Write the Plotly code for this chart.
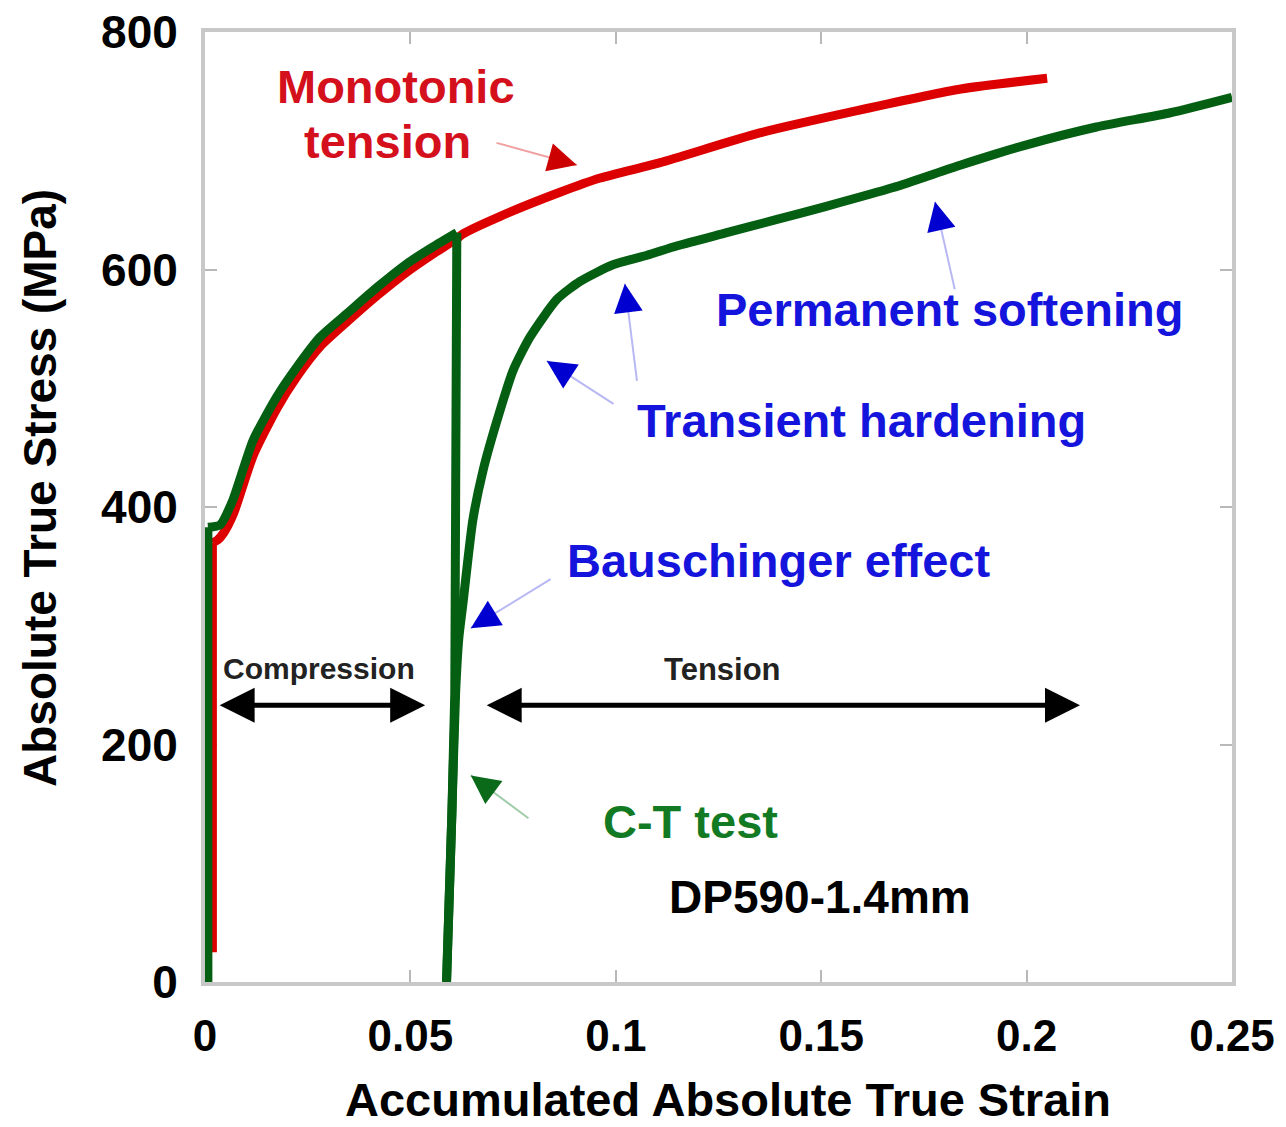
import math
import plotly.graph_objects as go

# ---- data ----
mono_elastic_strain = [0.0018, 0.0018]
mono_elastic_stress = [25, 370]
mono_strain = [0.0018, 0.003, 0.0045, 0.007, 0.0117, 0.0175, 0.0224, 0.028, 0.0346,
               0.0419, 0.0492, 0.0555, 0.0613, 0.0628, 0.072, 0.0864, 0.0962, 0.1108, 0.135,
               0.159, 0.184, 0.205]
mono_stress = [370, 372, 378, 395, 443, 483, 510, 535, 556,
               578, 598, 613, 626, 630, 645, 665, 677, 690, 715,
               734, 752, 761]

# C-T test: elastic compression, compression loading, elastic unloading, tension reloading
ct_elastic_strain = [0.0007, 0.0007]
ct_elastic_stress = [0, 383]
ct_comp_strain = [0.0007, 0.0037, 0.0068, 0.0117, 0.0175, 0.0224, 0.028, 0.0346, 0.0419,
                  0.0492, 0.0555, 0.0613]
ct_comp_stress = [383, 385, 406, 456, 493, 518, 543, 563, 585,
                  605, 619, 631]
ct_unload_strain = [0.0613, 0.0613, 0.0608, 0.0601, 0.0588]
ct_unload_stress = [631, 290, 243, 142, 0]
ct_reload_strain = [0.0588, 0.0601, 0.0610, 0.0618, 0.0628, 0.0652, 0.0677, 0.0711, 0.075,
                    0.0791, 0.0857, 0.0913, 0.0993, 0.1076, 0.115, 0.127, 0.139, 0.151, 0.1675,
                    0.184, 0.2, 0.217, 0.235, 0.25]
ct_reload_stress = [0, 142, 243, 290, 319, 389, 431, 473, 515,
                    543, 575, 590, 604, 612, 620, 631, 642, 653, 669,
                    688, 705, 720, 732, 745]

x_ticks = [0, 0.05, 0.1, 0.15, 0.2, 0.25]
x_tick_labels = ["0", "0.05", "0.1", "0.15", "0.2", "0.25"]
y_ticks = [0, 200, 400, 600, 800]
y_tick_labels = ["0", "200", "400", "600", "800"]

RED = "#dd0000"
GREEN = "#055f12"
BLUE = "#1414dc"
FONT = "Liberation Sans, Arial, sans-serif"

fig = go.Figure()

def curve(xs, ys, color, name, smooth):
    line = dict(color=color, width=9)
    if smooth:
        line.update(shape="spline", smoothing=0.6)
    fig.add_trace(go.Scatter(x=xs, y=ys, mode="lines", line=line, name=name,
                             showlegend=False, cliponaxis=False))

curve(mono_elastic_strain, mono_elastic_stress, RED, "Monotonic tension", False)
curve(mono_strain, mono_stress, RED, "Monotonic tension", True)
curve(ct_elastic_strain, ct_elastic_stress, GREEN, "C-T test", False)
curve(ct_comp_strain, ct_comp_stress, GREEN, "C-T test", True)
curve(ct_unload_strain, ct_unload_stress, GREEN, "C-T test", False)
curve(ct_reload_strain, ct_reload_stress, GREEN, "C-T test", True)

# plot-area pixel scale (for arrow head direction)
PX_X = 1027 / 0.25
PX_Y = 950 / 800.0

annotations = []

def text(x, y, s, color, size):
    annotations.append(dict(x=x, y=y, xref="x", yref="y", text="<b>%s</b>" % s,
                            showarrow=False, font=dict(family=FONT, size=size, color=color)))

def arrow(tx, ty, hx, hy, line_color, head_color, width=2):
    annotations.append(dict(x=hx, y=hy, ax=tx, ay=ty, xref="x", yref="y",
                            axref="x", ayref="y", text="", showarrow=True,
                            arrowhead=0, arrowwidth=width, arrowcolor=line_color))
    dx = (tx - hx) * PX_X
    dy = -(ty - hy) * PX_Y
    L = math.hypot(dx, dy)
    annotations.append(dict(x=hx, y=hy, ax=dx / L * 14, ay=dy / L * 14, xref="x", yref="y",
                            text="", showarrow=True, arrowhead=2, arrowsize=2.3,
                            arrowwidth=2.5, arrowcolor=head_color))

def double_arrow(x0, x1, y):
    annotations.append(dict(x=x1, y=y, ax=x0, ay=y, xref="x", yref="y", axref="x",
                            ayref="y", text="", showarrow=True, arrowhead=2,
                            arrowside="end+start", arrowsize=1.4, arrowwidth=5,
                            arrowcolor="black"))

text(0.0465, 754, "Monotonic", "#d4101c", 47)
text(0.0445, 708, "tension", "#d4101c", 47)
arrow(0.0706, 707, 0.0905, 688, "#f0a0a0", "#cc0000")

text(0.1813, 566, "Permanent softening", BLUE, 47)
arrow(0.1826, 582, 0.1777, 657, "#b8b8f4", "#0000d0")

text(0.1597, 473, "Transient hardening", BLUE, 47)
arrow(0.0998, 486, 0.0832, 523, "#b8b8f4", "#0000d0")
arrow(0.1052, 505, 0.1022, 588, "#b8b8f4", "#0000d0")

text(0.1395, 355, "Bauschinger effect", BLUE, 47)
arrow(0.0845, 340, 0.0647, 298, "#b8b8f4", "#0000d0")

text(0.0278, 264, "Compression", "#222222", 30)
double_arrow(0.0032, 0.0536, 233)
text(0.1259, 263, "Tension", "#222222", 31)
double_arrow(0.0682, 0.213, 233)

text(0.1183, 135, "C-T test", "#137a24", 47)
arrow(0.0791, 137, 0.0647, 174, "#a0cca8", "#0a6a1a")

text(0.1497, 72, "DP590-1.4mm", "black", 46)

# axis titles (placed as paper-referenced text)
annotations.append(dict(x=(728 - 205) / 1027, y=-(1099 - 982) / 950, xref="paper", yref="paper",
                        text="<b>Accumulated Absolute True Strain</b>", showarrow=False,
                        xanchor="center", yanchor="middle",
                        font=dict(family=FONT, size=47, color="black")))
annotations.append(dict(x=-(205 - 40) / 1027, y=(982 - 488) / 950, xref="paper", yref="paper",
                        text="<b>Absolute True Stress (MPa)</b>", showarrow=False, textangle=-90,
                        xanchor="center", yanchor="middle",
                        font=dict(family=FONT, size=46, color="black")))

axis_common = dict(showgrid=False, zeroline=False, showline=True, mirror="ticks",
                   linecolor="#c8c8c8", linewidth=4, ticks="inside", ticklen=12,
                   tickwidth=2, tickcolor="#b8b8b8", ticklabeloverflow="allow",
                   automargin=False, layer="below traces")

fig.update_layout(
    width=1286, height=1127,
    margin=dict(l=205, r=54, t=32, b=145),
    paper_bgcolor="white", plot_bgcolor="white",
    annotations=annotations,
    font=dict(family=FONT, color="black"),
    xaxis=dict(range=[0, 0.25], tickvals=x_ticks, ticktext=x_tick_labels,
               ticklabelstandoff=12,
               tickfont=dict(family=FONT, size=44, color="black", weight="bold"),
               **axis_common),
    yaxis=dict(range=[0, 800], tickvals=y_ticks, ticktext=y_tick_labels,
               ticklabelstandoff=14,
               tickfont=dict(family=FONT, size=46, color="black", weight="bold"),
               **axis_common),
)

fig.write_html("out.html", config={"displayModeBar": False},
               post_script="document.body.style.margin='0';document.body.style.overflow='hidden';")
